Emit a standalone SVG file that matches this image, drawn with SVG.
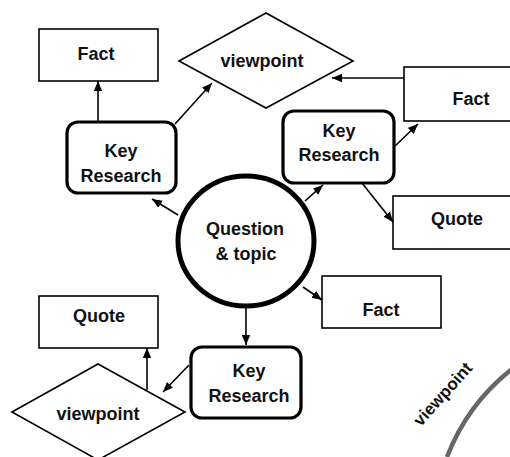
<svg xmlns="http://www.w3.org/2000/svg" width="510" height="457" viewBox="0 0 510 457">
<defs>
<marker id="ah" markerUnits="userSpaceOnUse" markerWidth="10" markerHeight="10" viewBox="0 0 10 10" refX="10" refY="5" orient="auto">
<path d="M0,0.8 L10,5 L0,9.2 Z" fill="#000"/>
</marker>
<style>
.t{font-family:"Liberation Sans",Arial,sans-serif;font-weight:bold;font-size:18px;fill:#111;text-anchor:middle}
.box{fill:#fff;stroke:#000;stroke-width:1.6}
.kr{fill:#fff;stroke:#000;stroke-width:3.2}
.c{stroke:#000;stroke-width:1.6;fill:none;marker-end:url(#ah)}
</style>
</defs>
<rect width="510" height="457" fill="#fff"/>
<g id="arc">
<path d="M 447 457 A 206 206 0 0 1 512 369" fill="none" stroke="#666" stroke-width="4.5"/>
<text class="t" style="font-size:17px" transform="translate(447,398) rotate(-48)">viewpoint</text>
</g>
<g id="fact1"><rect class="box" x="39" y="29" width="119" height="52"/><text class="t" x="96" y="60">Fact</text></g>
<g id="view1"><polygon class="box" points="179,61 266,13 353,61 266,108"/><text class="t" x="262" y="67">viewpoint</text></g>
<g id="kr1"><rect class="kr" x="67" y="122" width="109" height="71" rx="11"/><text class="t" x="121" y="157">Key</text><text class="t" x="121" y="182">Research</text></g>
<g id="fact2"><rect class="box" x="404" y="67" width="110" height="54"/><text class="t" x="471" y="105">Fact</text></g>
<g id="kr2"><rect class="kr" x="283" y="111" width="111" height="72" rx="11"/><text class="t" x="339" y="137">Key</text><text class="t" x="339" y="161">Research</text></g>
<g id="quote1"><rect class="box" x="393" y="196" width="121" height="53"/><text class="t" x="457" y="225">Quote</text></g>
<g id="center"><ellipse cx="246" cy="241" rx="68" ry="65" fill="#fff" stroke="#000" stroke-width="5"/><text class="t" x="245" y="235">Question</text><text class="t" x="246" y="260">&amp; topic</text></g>
<g id="fact3"><rect class="box" x="322" y="276" width="119" height="52"/><text class="t" x="381" y="316">Fact</text></g>
<g id="quote2"><rect class="box" x="39" y="296" width="119" height="52"/><text class="t" x="99" y="322">Quote</text></g>
<g id="kr3"><rect class="kr" x="191" y="347" width="110" height="71" rx="11"/><text class="t" x="249" y="377">Key</text><text class="t" x="249" y="402">Research</text></g>
<g id="view2"><polygon class="box" points="12,412 98,364 185,412 98,460"/><text class="t" x="98" y="420">viewpoint</text></g>
<g id="connectors">
<line class="c" x1="98" y1="122" x2="98" y2="81"/>
<line class="c" x1="175" y1="124" x2="212" y2="83"/>
<line class="c" x1="178" y1="215" x2="152" y2="199"/>
<line class="c" x1="404" y1="78" x2="332" y2="78"/>
<line class="c" x1="395" y1="146" x2="418" y2="124"/>
<line class="c" x1="305" y1="201" x2="323" y2="185"/>
<line class="c" x1="362" y1="183" x2="393" y2="222"/>
<line class="c" x1="303" y1="287" x2="322" y2="300"/>
<line class="c" x1="246" y1="307" x2="246" y2="345"/>
<line class="c" x1="189" y1="365" x2="163" y2="392"/>
<line class="c" x1="147" y1="390" x2="147" y2="348"/>
</g>
</svg>
